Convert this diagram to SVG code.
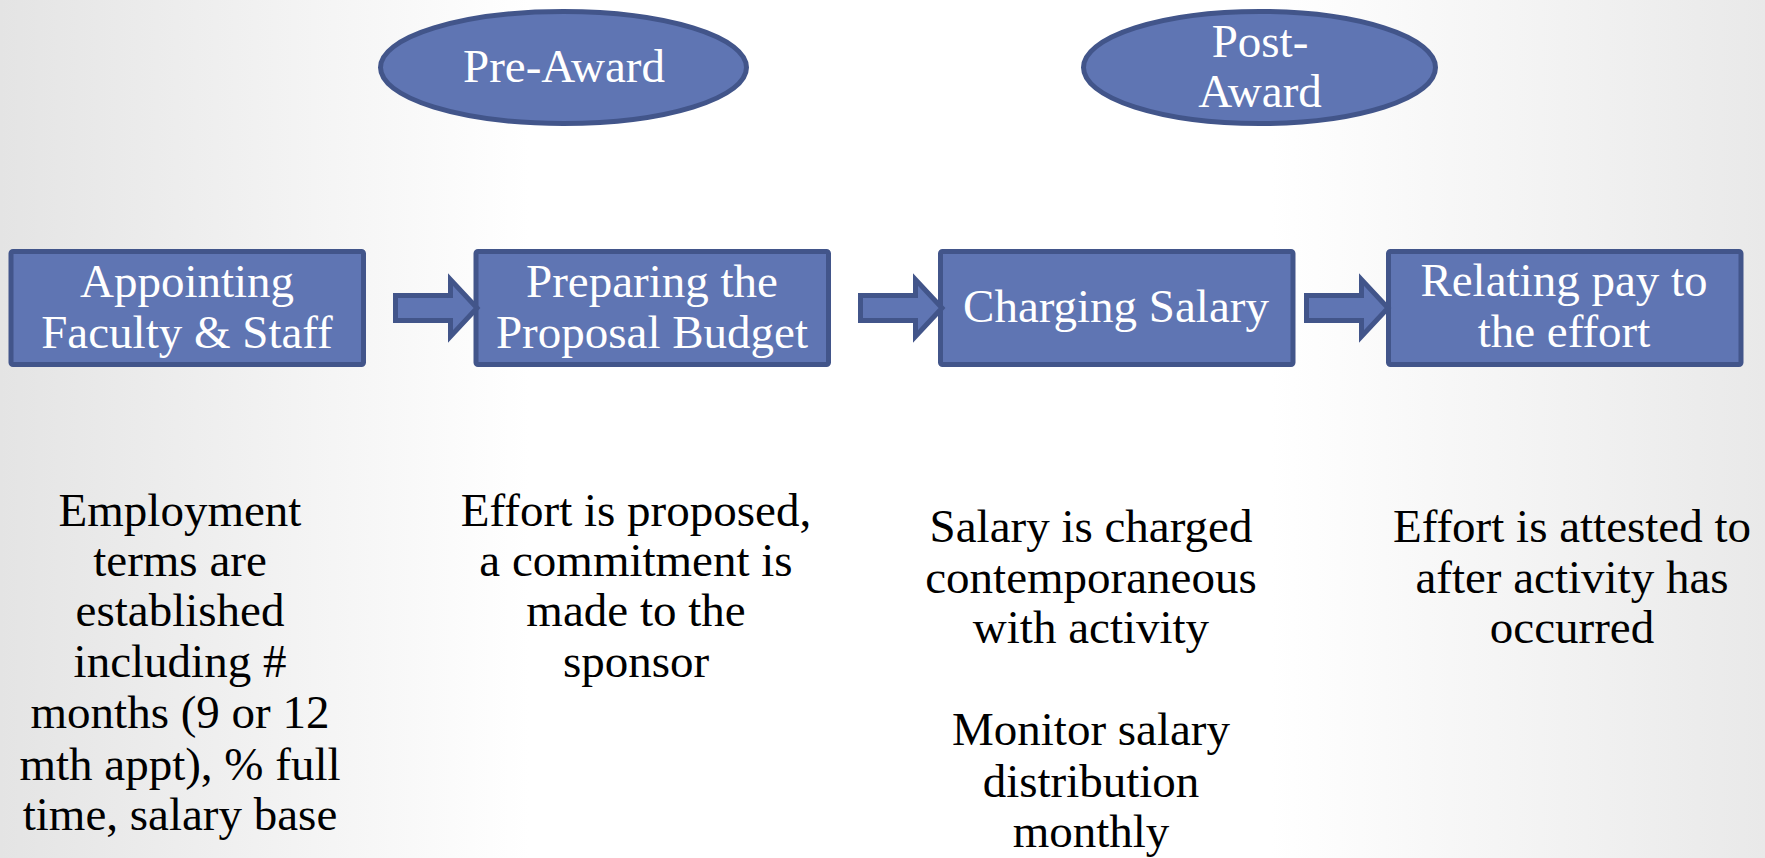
<svg xmlns="http://www.w3.org/2000/svg" width="1765" height="858" viewBox="0 0 1765 858">
  <defs>
    <linearGradient id="bg" x1="0" y1="0" x2="1" y2="0">
      <stop offset="0" stop-color="#e4e4e4"/>
      <stop offset="0.3" stop-color="#ffffff"/>
      <stop offset="0.72" stop-color="#ffffff"/>
      <stop offset="1" stop-color="#e9e9e9"/>
    </linearGradient>
    <style>
      .shape { fill: #5F75B3; stroke: #42558A; stroke-width: 5; stroke-linejoin: miter; }
      .node-text { font-family: "Liberation Serif", "Times New Roman", serif; font-size: 47px; fill: #ffffff; text-anchor: middle; }
      .body-text { font-family: "Liberation Serif", "Times New Roman", serif; font-size: 47px; fill: #000000; text-anchor: middle; }
    </style>
  </defs>
  <rect x="0" y="0" width="1765" height="858" fill="url(#bg)"/>

  <g id="pre-award">
    <ellipse class="shape" cx="563.5" cy="67.5" rx="183" ry="56"/>
    <text class="node-text" x="564" y="82">Pre-Award</text>
  </g>
  <g id="post-award">
    <ellipse class="shape" cx="1259.5" cy="67.5" rx="176" ry="56"/>
    <text class="node-text" x="1260" y="57">Post-</text>
    <text class="node-text" x="1260" y="107">Award</text>
  </g>

  <g id="appointing">
    <rect class="shape" x="11" y="251.5" width="352.5" height="113" rx="2"/>
    <text class="node-text" x="187" y="297">Appointing</text>
    <text class="node-text" x="187" y="348">Faculty &amp; Staff</text>
  </g>
  <g id="preparing">
    <rect class="shape" x="476" y="251.5" width="352.5" height="113" rx="2"/>
    <text class="node-text" x="652" y="297">Preparing the</text>
    <text class="node-text" x="652" y="348">Proposal Budget</text>
  </g>
  <g id="charging">
    <rect class="shape" x="940.5" y="251.5" width="352.5" height="113" rx="2"/>
    <text class="node-text" x="1116" y="322">Charging Salary</text>
  </g>
  <g id="relating">
    <rect class="shape" x="1388.5" y="251.5" width="352.5" height="113" rx="2"/>
    <text class="node-text" x="1564" y="296">Relating pay to</text>
    <text class="node-text" x="1564" y="347">the effort</text>
  </g>

  <g id="connectors">
    <path class="shape" d="M395.5,295.5 H450.5 V279.5 L477,308 L450.5,336.5 V320.5 H395.5 Z"/>
    <path class="shape" d="M860.5,295.5 H915.5 V279.5 L942,308 L915.5,336.5 V320.5 H860.5 Z"/>
    <path class="shape" d="M1306.5,295.5 H1361.5 V279.5 L1388,308 L1361.5,336.5 V320.5 H1306.5 Z"/>
  </g>

  <g id="desc-appointing">
    <text class="body-text" x="180" y="526">Employment</text>
    <text class="body-text" x="180" y="576">terms are</text>
    <text class="body-text" x="180" y="626">established</text>
    <text class="body-text" x="180" y="677">including #</text>
    <text class="body-text" x="180" y="728">months (9 or 12</text>
    <text class="body-text" x="180" y="780">mth appt), % full</text>
    <text class="body-text" x="180" y="830">time, salary base</text>
  </g>
  <g id="desc-preparing">
    <text class="body-text" x="636" y="526">Effort is proposed,</text>
    <text class="body-text" x="636" y="576">a commitment is</text>
    <text class="body-text" x="636" y="626">made to the</text>
    <text class="body-text" x="636" y="677">sponsor</text>
  </g>
  <g id="desc-charging">
    <text class="body-text" x="1091" y="542">Salary is charged</text>
    <text class="body-text" x="1091" y="593">contemporaneous</text>
    <text class="body-text" x="1091" y="643">with activity</text>
    <text class="body-text" x="1091" y="745">Monitor salary</text>
    <text class="body-text" x="1091" y="797">distribution</text>
    <text class="body-text" x="1091" y="847">monthly</text>
  </g>
  <g id="desc-relating">
    <text class="body-text" x="1572" y="542">Effort is attested to</text>
    <text class="body-text" x="1572" y="593">after activity has</text>
    <text class="body-text" x="1572" y="643">occurred</text>
  </g>
</svg>
